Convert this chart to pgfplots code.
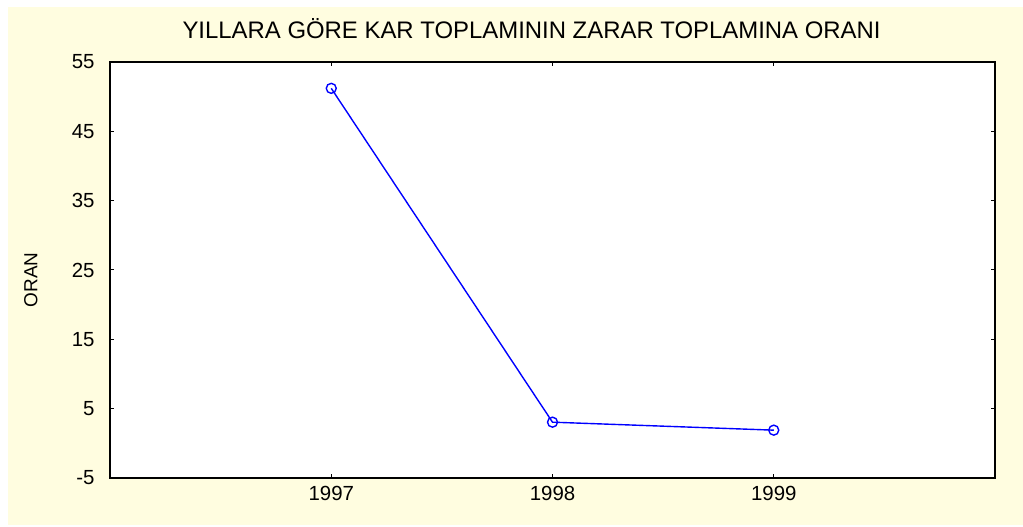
\documentclass[border=0pt]{standalone}
\usepackage{pgfplots}
\pgfplotsset{compat=1.18}
\usepackage{fontspec}
\setmainfont{Liberation Sans}
\definecolor{cream}{RGB}{255,253,224}
\begin{document}
\begin{tikzpicture}[x=1bp,y=1bp]
\useasboundingbox (0,0) rectangle (1023,527);
\fill[white] (0,0) rectangle (1023,527);
\fill[cream] (8,2) rectangle (1023,520);
\begin{axis}[
  at={(110bp,49bp)}, anchor=south west,
  scale only axis, width=885bp, height=416bp,
  xmin=1996, xmax=2000, ymin=-5, ymax=55,
  xtick={1997,1998,1999}, ytick={-5,5,15,25,35,45,55},
  xticklabel style={/pgf/number format/1000 sep={}, yshift=-5bp},
  yticklabel style={xshift=-12bp},
  /pgf/number format/assume math mode=true,
  tick align=inside, major tick length=4bp,
  tick style={black, line width=1pt},
  axis line style={black, line width=1.6pt},
  axis background/.style={fill=white},
  ticklabel style={font=\fontsize{20.5}{24}\selectfont},
  title={YILLARA GÖRE KAR TOPLAMININ ZARAR TOPLAMINA ORANI},
  title style={at={(axis description cs:0.4763,1.067)}, anchor=center, font=\fontsize{24}{28}\selectfont},
  ylabel={ORAN},
  ylabel style={at={(axis description cs:-0.0893,0.476)}, anchor=center, font=\fontsize{19}{22}\selectfont},
]
\addplot[blue, line width=1.4pt, mark=o, mark size=5bp, mark options={fill=white, line width=1.4pt}]
  coordinates {(1997,51.2) (1998,3.05) (1999,1.9)};
\end{axis}
\end{tikzpicture}
\end{document}
